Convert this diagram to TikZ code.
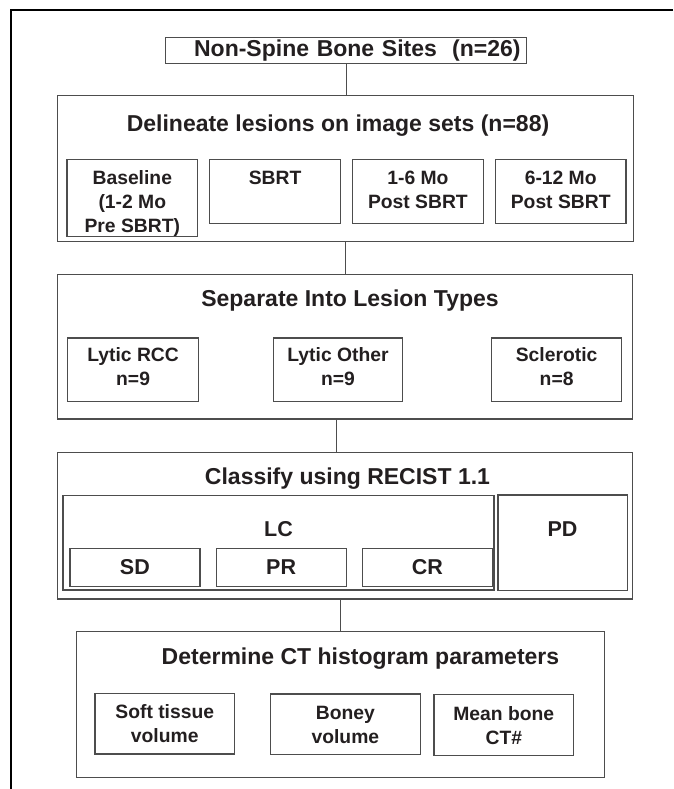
\documentclass[tikz,border=0pt]{standalone}
\usepackage{fontspec}
\setmainfont{Liberation Sans}
\usetikzlibrary{positioning}

\definecolor{boxline}{HTML}{4D4D4D}
\definecolor{textcol}{HTML}{231F20}
\newcommand{\titlefont}{\fontsize{23}{27}\selectfont\bfseries}
\newcommand{\subfont}{\fontsize{19.3}{24}\selectfont\bfseries}
\newcommand{\classfont}{\fontsize{21.5}{25}\selectfont\bfseries}

\begin{document}
\begin{tikzpicture}
	[x=1pt, y=-1pt,
	bigbox/.style={draw=boxline, line width=1.2pt, anchor=north west, inner sep=0pt},
	subbox/.style={draw=boxline, line width=1.2pt, anchor=north west, inner sep=0pt, align=center, font=\subfont, text=textcol},
	classbox/.style={subbox, font=\classfont},
	titlestyle/.style={anchor=base, inner sep=0pt, font=\titlefont, text=textcol},
	link/.style={draw=boxline, line width=1pt}
	]
	
	%Set params
	\def\hdist{11pt}
	\def\cdist{15pt}
	
	\useasboundingbox (0,0) rectangle (673,789);
	\draw[line width=2.2pt] (673,10) -- (11,10) -- (11,789);
	
	%Main boxes
	\node(Sites)[bigbox, minimum width=361pt, minimum height=26pt, text width=349pt, align=right, font=\titlefont, text=textcol] at (165,36.7) {Non-Spine Bone Sites\ \ (n=26)};
	\node(Delineate)[bigbox, minimum width=576pt, minimum height=146pt] at (57,95) {};
	\node(Types)[bigbox, minimum width=575pt, minimum height=144.3pt] at (57,274) {};
	\node(Classify)[bigbox, minimum width=575pt, minimum height=146.3pt] at (57,452) {};
	\node(Params)[bigbox, minimum width=528pt, minimum height=146pt] at (76,631) {};
	
	%Titles
	\node(DelTitle)[titlestyle] at (338,131.5) {Delineate lesions on image sets (n=88)};
	\node(TypesTitle)[titlestyle] at (350,306.5) {Separate Into Lesion Types};
	\node(ClassTitle)[titlestyle] at (347.5,484.9) {Classify using RECIST 1.1};
	\node(ParamsTitle)[titlestyle] at (360.5,664.9) {Determine CT histogram parameters};
	
	%Image sets (text height runs to the last line)
	\node(Baseline)[subbox, minimum width=130.6pt, text height=72.6pt, text depth=4.4pt] at (66.4,159) {Baseline\\(1-2 Mo\\Pre SBRT)};
	\node(SBRT)[subbox, minimum width=130.6pt, text height=24.6pt, text depth=39.4pt, right=\hdist of Baseline.north east, anchor=north west] {SBRT};
	\node(PostA)[subbox, minimum width=130.6pt, text height=48.6pt, text depth=15.4pt, right=\hdist of SBRT.north east, anchor=north west] {1-6 Mo\\Post SBRT};
	\node(PostB)[subbox, minimum width=130.6pt, text height=48.6pt, text depth=15.4pt, right=\hdist of PostA.north east, anchor=north west] {6-12 Mo\\Post SBRT};
	
	%Lesion types
	\node(LyticRCC)[subbox, minimum width=131pt, text height=47.8pt, text depth=15.9pt] at (67,337.3) {Lytic RCC\\n=9};
	\node(LyticOther)[subbox, minimum width=129.2pt, text height=47.8pt, text depth=15.9pt] at (272.8,337.3) {Lytic Other\\n=9};
	\node(Sclerotic)[subbox, minimum width=130pt, text height=47.8pt, text depth=15.9pt] at (491,337.3) {Sclerotic\\n=8};
	
	%RECIST
	\node(LC)[classbox, minimum width=432.3pt, text height=41pt, text depth=54pt] at (61.7,495) {LC};
	\draw[boxline, line width=0.8pt] ([xshift=1.8pt]LC.north west) |- ([shift={(-1.8pt,1.8pt)}]LC.south east) -- ([xshift=-1.8pt]LC.north east);
	\node(PD)[classbox, minimum width=129.3pt, text height=41.7pt, text depth=54pt] at (497.3,494.3) {PD};
	\node(SD)[classbox, minimum width=130pt, minimum height=38.3pt] at (69.3,547.7) {SD};
	\node(PR)[classbox, minimum width=130pt, minimum height=38.3pt, right=\cdist of SD.north east, anchor=north west] {PR};
	\node(CR)[classbox, minimum width=130pt, minimum height=38.3pt, right=\cdist of PR.north east, anchor=north west] {CR};
	
	%Histogram parameters
	\node(Soft)[subbox, minimum width=139.7pt, text height=49.4pt, text depth=11.2pt] at (94.3,692.7) {Soft tissue\\volume};
	\node(Boney)[subbox, minimum width=149.9pt, text height=49.4pt, text depth=11.3pt] at (269.8,693.3) {Boney\\volume};
	\node(Mean)[subbox, minimum width=139.6pt, text height=49.4pt, text depth=11.3pt] at (433.4,694) {Mean bone\\CT\#};
	
	%Links
	\draw[link] (Sites.south) -- (Sites.south |- Delineate.north);
	\draw[link] (Delineate.south) -- (Delineate.south |- Types.north);
	\draw[link] ([xshift=-8.5pt]Types.south) -- ([xshift=-8.5pt]Types.south |- Classify.north);
	\draw[link] (Params.north |- Classify.south) -- (Params.north);
	
\end{tikzpicture}
\end{document}
